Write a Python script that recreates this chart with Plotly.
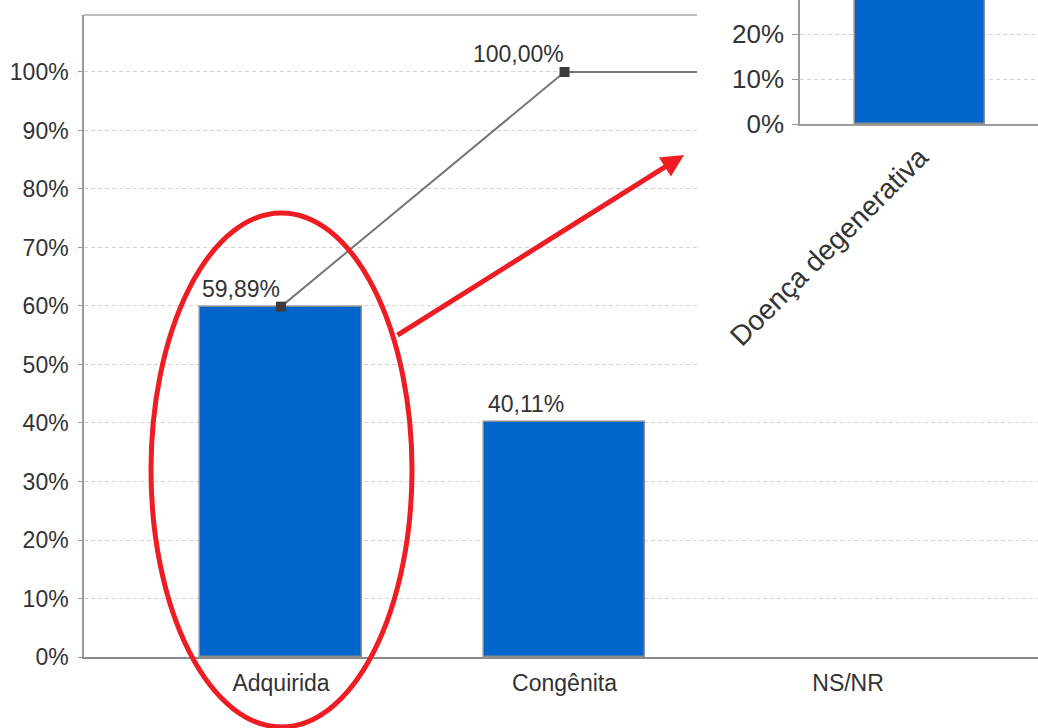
import plotly.graph_objects as go

# ---------------- data ----------------
categories = ["Adquirida", "Congênita", "NS/NR"]
percent = [59.89, 40.11, 0.0]
cumulative = [59.89, 100.00, 100.00]

inset_categories = ["Doença degenerativa"]
inset_values = [40.0]  # bar runs past the top of the visible inset

y_ticks = [0, 10, 20, 30, 40, 50, 60, 70, 80, 90, 100]
inset_y_ticks = [0, 10, 20]

# ---------------- layout geometry ----------------
W, H = 1038, 728
ML, MR, MT, MB = 84, 0, 0, 71
PW, PH = W - ML - MR, H - MT - MB


def px_x(px):
    return (px - ML) / PW


def px_y(py):
    return 1 - (py - MT) / PH


FONT = "Liberation Sans, Arial, sans-serif"
BLUE = "#0066CC"
RED = "#EE1D23"
GRID = "#d4d4d4"
AXIS = "#9a9a9a"
TXT = "#333333"

fig = go.Figure()

# main bars
fig.add_trace(go.Bar(
    x=categories, y=percent, width=0.571,
    marker=dict(color=BLUE, line=dict(color="#8c8c8c",
                                      width=[1.5 if v > 0 else 0 for v in percent])),
    xaxis="x", yaxis="y", showlegend=False, hoverinfo="skip",
))
# cumulative line
fig.add_trace(go.Scatter(
    x=categories, y=cumulative, mode="lines+markers",
    line=dict(color="#777777", width=2),
    marker=dict(symbol="square", size=10, color="#3c3c3c"),
    xaxis="x", yaxis="y", showlegend=False, hoverinfo="skip", cliponaxis=False,
))

# cover subplot (white area over the main chart)
fig.add_trace(go.Scatter(x=[None], y=[None], xaxis="x2", yaxis="y2",
                         showlegend=False, hoverinfo="skip"))

# inset bar
fig.add_trace(go.Bar(
    x=inset_categories, y=inset_values, width=0.6,
    marker=dict(color=BLUE, line=dict(color="#8c8c8c", width=1.5)),
    xaxis="x3", yaxis="y3", showlegend=False, hoverinfo="skip",
))


def fmt(v):
    return f"{v:.2f}".replace(".", ",") + "%"


annotations = []
# value labels (right-aligned on category centre)
labels = [(categories[0], percent[0]), (categories[1], percent[1]),
          (categories[1], cumulative[1])]
for c, v in labels:
    annotations.append(dict(
        x=c, y=v, xref="x", yref="y", text=fmt(v), showarrow=False,
        xanchor="right", yanchor="bottom", xshift=1, yshift=3,
        font=dict(family=FONT, size=23, color=TXT),
    ))

# red arrow towards the inset
annotations.append(dict(
    x=px_x(684), y=px_y(155), xref="paper", yref="paper",
    ax=396 - 684, ay=336 - 155, axref="pixel", ayref="pixel",
    text="", showarrow=True, arrowhead=2, arrowsize=0.9, arrowwidth=5,
    arrowcolor=RED, standoff=0,
))

shapes = [
    # red ellipse around "Adquirida"
    dict(type="circle", xref="paper", yref="paper",
         x0=px_x(151), x1=px_x(412), y0=px_y(727), y1=px_y(213),
         line=dict(color=RED, width=5), layer="above"),
]

fig.update_layout(
    width=W, height=H,
    margin=dict(l=ML, r=MR, t=MT, b=MB, pad=0),
    paper_bgcolor="white", plot_bgcolor="white",
    font=dict(family=FONT, size=23, color=TXT),
    bargap=0,
    annotations=annotations,
    shapes=shapes,
    xaxis=dict(
        domain=[0, 1], range=[-0.695, 2.670], anchor="y",
        showline=True, linecolor="#8a8a8a", linewidth=2, mirror=False,
        showgrid=False, ticks="", tickfont=dict(size=23, color=TXT),
        ticklabelstandoff=4, fixedrange=True,
    ),
    yaxis=dict(
        domain=[0, px_y(15)], range=[0, 109.74], anchor="x",
        tickvals=y_ticks, ticktext=[f"{t}%" for t in y_ticks],
        showline=True, linecolor=AXIS, linewidth=1.5,
        ticks="outside", ticklen=4, tickcolor=AXIS,
        showgrid=True, gridcolor=GRID, griddash="4px,3px", gridwidth=1,
        zeroline=False, tickfont=dict(size=23, color=TXT),
        ticklabelstandoff=5, fixedrange=True,
    ),
    xaxis2=dict(domain=[px_x(697), 1], anchor="y2", visible=False, range=[0, 1]),
    yaxis2=dict(domain=[px_y(395), 1], anchor="x2", visible=False, range=[0, 1]),
    xaxis3=dict(
        domain=[px_x(800), 1], range=[-0.554, 0.545], anchor="y3",
        showline=True, linecolor=AXIS, linewidth=1.5, showgrid=False,
        ticks="", tickangle=-45, tickfont=dict(size=28, color=TXT),
        ticklabelstandoff=4, fixedrange=True,
    ),
    yaxis3=dict(
        domain=[px_y(124), 1], range=[0, 27.56], anchor="x3",
        tickvals=inset_y_ticks, ticktext=[f"{t}%" for t in inset_y_ticks],
        showline=True, linecolor=AXIS, linewidth=1.5,
        ticks="outside", ticklen=6, tickcolor=AXIS,
        showgrid=True, gridcolor=GRID, griddash="4px,3px", gridwidth=1,
        zeroline=False, tickfont=dict(size=26, color=TXT),
        ticklabelstandoff=3, fixedrange=True,
    ),
)

# top border of the main plot
fig.add_shape(type="line", xref="paper", yref="paper",
              x0=0, x1=1, y0=px_y(15), y1=px_y(15),
              line=dict(color="#a8a8a8", width=1.5), layer="below")

fig.write_html(
    "out.html",
    config={"displayModeBar": False},
    post_script="document.body.style.margin='0';document.body.style.overflow='hidden';",
)
